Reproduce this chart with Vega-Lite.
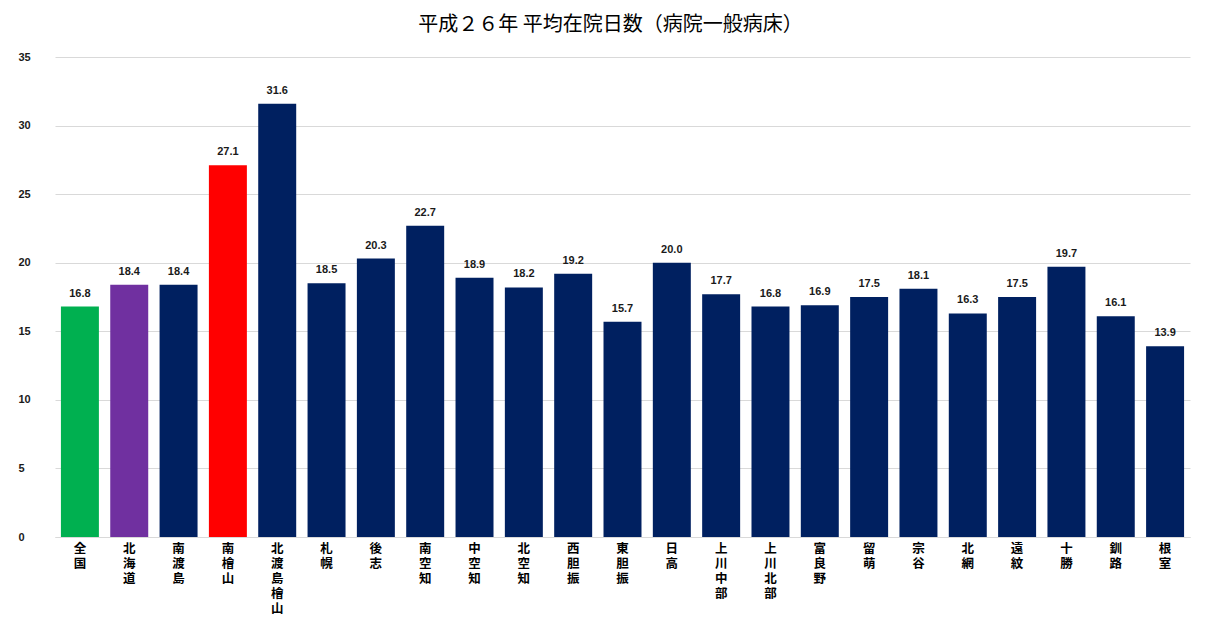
{
  "$schema": "https://vega.github.io/schema/vega-lite/v6.json",
  "autosize": {"type": "none"},
  "width": 1135,
  "height": 480,
  "padding": {"left": 55, "top": 57, "right": 23, "bottom": 81},
  "background": "white",
  "title": {
    "text": "平成２６年 平均在院日数（病院一般病床）",
    "font": "Noto Sans CJK JP",
    "fontSize": 20,
    "fontWeight": "normal",
    "color": "#000000",
    "anchor": "middle",
    "offset": 16,
    "dx": -12
  },
  "data": {
    "values": [
      {"region": "全国", "days": 16.8},
      {"region": "北海道", "days": 18.4},
      {"region": "南渡島", "days": 18.4},
      {"region": "南檜山", "days": 27.1},
      {"region": "北渡島檜山", "days": 31.6},
      {"region": "札幌", "days": 18.5},
      {"region": "後志", "days": 20.3},
      {"region": "南空知", "days": 22.7},
      {"region": "中空知", "days": 18.9},
      {"region": "北空知", "days": 18.2},
      {"region": "西胆振", "days": 19.2},
      {"region": "東胆振", "days": 15.7},
      {"region": "日高", "days": 20.0},
      {"region": "上川中部", "days": 17.7},
      {"region": "上川北部", "days": 16.8},
      {"region": "富良野", "days": 16.9},
      {"region": "留萌", "days": 17.5},
      {"region": "宗谷", "days": 18.1},
      {"region": "北網", "days": 16.3},
      {"region": "遠紋", "days": 17.5},
      {"region": "十勝", "days": 19.7},
      {"region": "釧路", "days": 16.1},
      {"region": "根室", "days": 13.9}
    ]
  },
  "encoding": {
    "x": {
      "field": "region",
      "type": "nominal",
      "sort": null,
      "scale": {"paddingInner": 0.23, "paddingOuter": 0.12},
      "axis": {
        "title": null,
        "labelAngle": 0,
        "labelExpr": "split(datum.value, '')",
        "labelFont": "Noto Sans CJK JP",
        "labelFontSize": 12.5,
        "labelFontWeight": "bold",
        "labelColor": "#000000",
        "labelLineHeight": 15,
        "labelBaseline": "top",
        "labelPadding": 5,
        "ticks": false,
        "domainColor": "#d9d9d9",
        "labelOverlap": false
      }
    },
    "y": {
      "field": "days",
      "type": "quantitative",
      "scale": {"domain": [0, 35]},
      "axis": {
        "title": null,
        "values": [0, 5, 10, 15, 20, 25, 30, 35],
        "labelFont": "Liberation Sans",
        "labelFontSize": 11,
        "labelFontWeight": "bold",
        "labelColor": "#1a1a1a",
        "labelAlign": "left",
        "labelPadding": 37,
        "ticks": false,
        "domain": false,
        "gridColor": "#d9d9d9",
        "gridWidth": 1
      }
    }
  },
  "layer": [
    {
      "mark": {"type": "bar"},
      "encoding": {
        "color": {
          "condition": [
            {"test": "datum.region === '全国'", "value": "#00b050"},
            {"test": "datum.region === '北海道'", "value": "#7030a0"},
            {"test": "datum.region === '南檜山'", "value": "#ff0000"}
          ],
          "value": "#002060"
        }
      }
    },
    {
      "mark": {
        "type": "text",
        "dy": -13,
        "font": "Liberation Sans",
        "fontSize": 11,
        "fontWeight": "bold",
        "color": "#1a1a1a"
      },
      "encoding": {
        "text": {"field": "days", "type": "quantitative", "format": ".1f"}
      }
    }
  ],
  "config": {"view": {"stroke": null}}
}
